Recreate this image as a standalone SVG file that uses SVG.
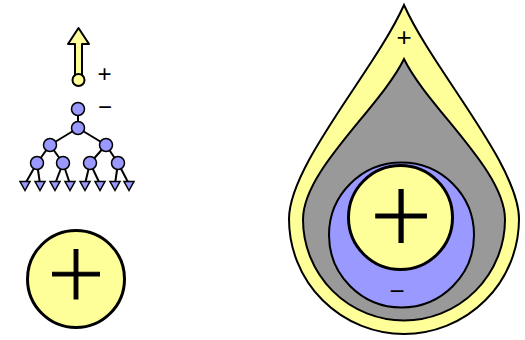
<svg xmlns="http://www.w3.org/2000/svg" width="525" height="340" viewBox="0 0 525 340">
  <style>
    .yel { fill: #ffff99; stroke: #000; }
    .blu { fill: #9999ff; stroke: #000; }
    .gry { fill: #999999; stroke: #000; }
    .edge { stroke: #000; stroke-width: 2; fill: none; }
    .sign { font-family: "Liberation Sans", Arial, sans-serif; fill: #000; text-anchor: middle; }
    .big { font-family: "Lato", "Liberation Sans", sans-serif; font-weight: 300; fill: #000; stroke: #000; stroke-width: 1; text-anchor: middle; }
  </style>

  <!-- dipole arrow with its positive label -->
  <g id="arrow">
    <polygon class="yel" stroke-width="2" stroke-linejoin="round" points="78.5,28 68,44 75,44 75,76 82,76 82,44 89,44"/>
    <circle class="yel" stroke-width="2" cx="78.5" cy="80" r="6"/>
    <text class="sign" x="104.5" y="81.5" font-size="24">+</text>
  </g>

  <!-- branching tree -->
  <g id="tree-edges">
    <line class="edge" stroke-width="3" x1="78" y1="109" x2="78" y2="128"/>
    <line class="edge" x1="78" y1="128" x2="50" y2="145"/>
    <line class="edge" x1="78" y1="128" x2="106" y2="145"/>
    <line class="edge" x1="50" y1="145" x2="37" y2="163"/>
    <line class="edge" x1="50" y1="145" x2="63" y2="163"/>
    <line class="edge" x1="106" y1="145" x2="90" y2="163"/>
    <line class="edge" x1="106" y1="145" x2="118" y2="163"/>
    <line class="edge" x1="37" y1="163" x2="25" y2="184"/>
    <line class="edge" x1="37" y1="163" x2="40" y2="184"/>
    <line class="edge" x1="63" y1="163" x2="55" y2="184"/>
    <line class="edge" x1="63" y1="163" x2="70" y2="184"/>
    <line class="edge" x1="90" y1="163" x2="85" y2="184"/>
    <line class="edge" x1="90" y1="163" x2="100" y2="184"/>
    <line class="edge" x1="118" y1="163" x2="115" y2="184"/>
    <line class="edge" x1="118" y1="163" x2="129" y2="184"/>
  </g>
  <g id="tree-nodes" stroke-width="1.5">
    <circle class="blu" cx="78" cy="109" r="6.5"/>
    <circle class="blu" cx="78" cy="128" r="6.5"/>
    <circle class="blu" cx="50" cy="145" r="6.5"/>
    <circle class="blu" cx="106" cy="145" r="6.5"/>
    <circle class="blu" cx="37" cy="163" r="6.5"/>
    <circle class="blu" cx="63" cy="163" r="6.5"/>
    <circle class="blu" cx="90" cy="163" r="6.5"/>
    <circle class="blu" cx="118" cy="163" r="6.5"/>
    <polygon class="blu" points="20,181.5 30,181.5 25,190.5"/>
    <polygon class="blu" points="35,181.5 45,181.5 40,190.5"/>
    <polygon class="blu" points="50,181.5 60,181.5 55,190.5"/>
    <polygon class="blu" points="65,181.5 75,181.5 70,190.5"/>
    <polygon class="blu" points="80,181.5 90,181.5 85,190.5"/>
    <polygon class="blu" points="95,181.5 105,181.5 100,190.5"/>
    <polygon class="blu" points="110,181.5 120,181.5 115,190.5"/>
    <polygon class="blu" points="124,181.5 134,181.5 129,190.5"/>
    <text class="sign" x="105" y="115" font-size="24">−</text>
  </g>

  <!-- single positive charge -->
  <g id="charge">
    <circle class="yel" stroke-width="3" cx="76" cy="279" r="48.5"/>
    <text class="big" x="76" y="308" font-size="100">+</text>
  </g>

  <!-- layered drop: yellow shell, grey body, blue pocket, yellow core -->
  <g id="drop">
    <path class="yel" stroke-width="2" d="M404,5 C375,70 289,165 289,219 A115,115 0 0 0 519,219 C519,165 433,70 404,5 Z"/>
    <text class="sign" x="404" y="46" font-size="26">+</text>
    <path class="gry" stroke-width="2" d="M404,59 C380,108 303,170 303,219.5 A101,101 0 0 0 505,219.5 C505,170 428,108 404,59 Z"/>
    <circle class="blu" stroke-width="2" cx="401.5" cy="235" r="72.5"/>
    <text class="sign" x="397" y="300" font-size="26">−</text>
    <circle class="yel" stroke-width="3" cx="400.5" cy="217.5" r="52"/>
    <text class="big" x="401" y="251.5" font-size="108">+</text>
  </g>
</svg>
